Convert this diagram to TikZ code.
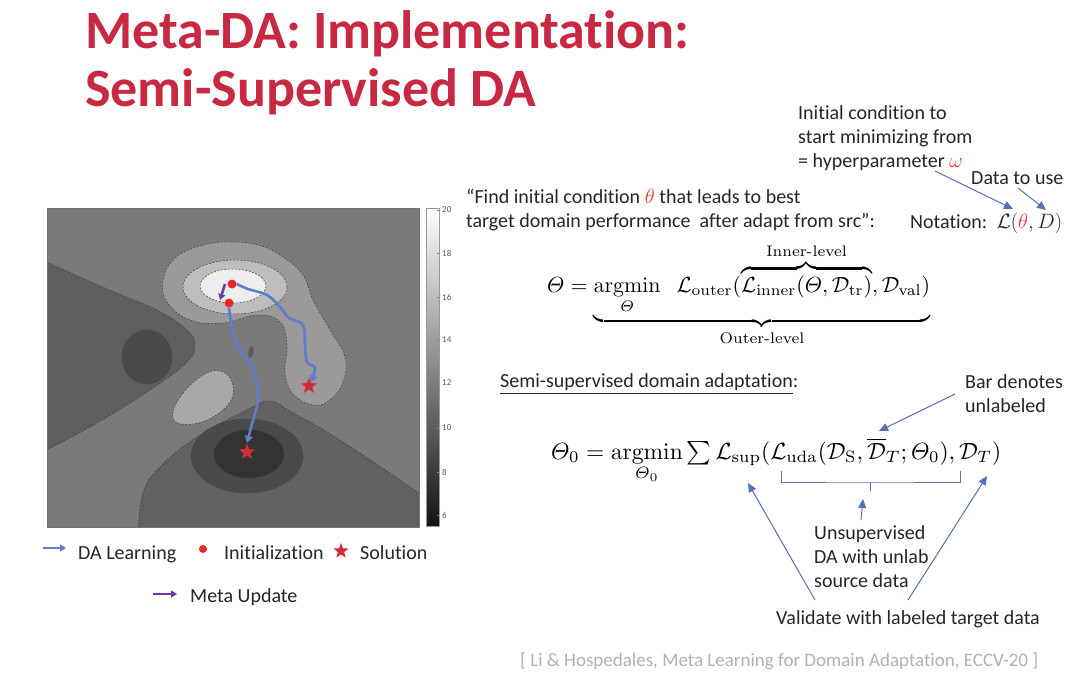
\documentclass[tikz,border=0pt]{standalone}
\usepackage{amsmath}
\usepackage{graphicx}
\usepackage[no-math]{fontspec}
\setmainfont{Carlito}[Ligatures={TeX,NoCommon}]
\newfontfamily\lmr{Latin Modern Roman}
\usetikzlibrary{arrows.meta,shapes.geometric}
\definecolor{titlered}{RGB}{200,40,65}
\definecolor{txtc}{RGB}{38,38,38}
\definecolor{mred}{RGB}{222,60,50}
\definecolor{annblue}{RGB}{90,110,180}
\definecolor{plotblue}{RGB}{95,125,205}
\definecolor{metapurple}{RGB}{110,60,160}
\definecolor{dotred}{RGB}{232,40,40}
\definecolor{starred}{RGB}{212,45,55}
\definecolor{citec}{RGB}{178,178,178}
\definecolor{cbg}{gray}{0.48}
\definecolor{clobe}{gray}{0.37}
\definecolor{cring1}{gray}{0.60}
\definecolor{cring2}{gray}{0.74}
\definecolor{cring3}{gray}{0.93}
\definecolor{csmall}{gray}{0.66}
\definecolor{cspot}{gray}{0.36}
\definecolor{cdark1}{gray}{0.38}
\definecolor{cdark2}{gray}{0.29}
\definecolor{cdark3}{gray}{0.20}
\tikzset{
  txt/.style={font=\fontsize{20}{24}\selectfont, text=txtc, inner sep=0pt, anchor=base west},
  titletxt/.style={font=\fontsize{54}{60}\selectfont\bfseries, text=titlered, inner sep=0pt, anchor=base west},
  citetxt/.style={font=\fontsize{19}{24}\selectfont, text=citec, inner sep=0pt, anchor=base west},
  cbtick/.style={font=\fontsize{9}{10}\selectfont, text=black!65, inner sep=0pt, anchor=west},
  contour/.style={draw=black!75, line width=0.5pt, dash pattern=on 2pt off 1.5pt},
  initdot/.style={circle, fill=dotred, minimum size=9pt, inner sep=0pt},
  solstar/.style={star, star points=5, star point ratio=2.4, fill=starred, minimum size=17pt, inner sep=0pt},
  dalearn/.style={draw=plotblue, line width=2.6pt, -{Triangle[length=7pt,width=8pt]}},
  metaup/.style={draw=metapurple, line width=2.6pt, -{Triangle[length=6pt,width=7pt]}},
  annarrow/.style={draw=annblue, line width=1pt, -{Triangle[length=9pt,width=8pt]}},
  bracketline/.style={draw=annblue, line width=0.8pt},
}
\begin{document}
\begin{tikzpicture}[x=1pt,y=-1pt]
\useasboundingbox (0,0) rectangle (1080,675);
\fill[white] (0,0) rectangle (1080,675);

% ---------- title ----------
\node[titletxt] (title1) at (85,48) {Meta-DA: Implementation:};
\node[titletxt] (title2) at (85,106) {Semi-Supervised DA};

% ---------- contour plot ----------
\begin{scope}
\clip (47,208) rectangle (419,527);
\fill[cbg] (47,208) rectangle (419,527);
% left dark lobe
\filldraw[fill=clobe, contour] plot[smooth, tension=0.7] coordinates {(40,259) (107,289) (157,310) (187,330) (195,345) (187,362) (150,390) (90,427) (40,453)} -- cycle;
\filldraw[fill=cdark2, contour] (147,357) ellipse [x radius=25, y radius=27];
% top light blob with tail
\filldraw[fill=cring1, contour] plot[smooth cycle, tension=0.7] coordinates {(163,280) (175,258) (200,246) (227,242) (258,245) (283,257) (303,275) (313,300) (330,330) (345,357) (343,382) (330,400) (313,405) (293,394) (285,373) (287,345) (280,322) (257,315) (223,323) (190,320) (167,302)};
\filldraw[fill=cring2, contour] (235,287) ellipse [x radius=52, y radius=27];
\filldraw[fill=cring3, contour] (233,286) ellipse [x radius=33, y radius=17];
% small light blob
\filldraw[fill=csmall, contour] plot[smooth cycle, tension=0.7] coordinates {(173,413) (183,393) (203,375) (220,371) (232,382) (230,402) (207,420) (180,424)};
% small dark spot
\fill[cspot, rotate around={-10:(251,352)}] (251,352) ellipse [x radius=2.5, y radius=6];
% bottom dark region
\filldraw[fill=cdark1, contour] plot[smooth, tension=0.7] coordinates {(138,535) (143,493) (160,467) (197,437) (247,410) (270,401) (293,413) (340,440) (425,497)} -- (425,535) -- cycle;
\filldraw[fill=cdark2, contour] (247,456) ellipse [x radius=56, y radius=37];
\filldraw[fill=cdark3, contour] (249,454) ellipse [x radius=35, y radius=24];
\end{scope}
\draw[black!55, line width=0.5pt] (47,208) rectangle (419,527);

% initialisations and solutions
\node[initdot] (i1) at (232,284) {};
\node[initdot] (i2) at (229,303) {};
\node[solstar] (s1) at (247,452) {};
\node[solstar] (s2) at (309,386) {};
\draw[dalearn] plot[smooth, tension=0.6] coordinates {(i2.south) (233,333) (240,350) (250,364) (256,380) (258,400) (253,420) (s1.north)};
\draw[dalearn] plot[smooth, tension=0.6] coordinates {(i1.east) (248,289) (267,295) (280,307) (289,318) (303,325) (305,345) (307,362) (315,368) (s2.62)};
\draw[metaup] ([xshift=-7pt]i1.center) -- ([xshift=-9pt,yshift=3pt]i2.center);

% colour bar
\shade[top color=white, bottom color={gray!15!black}] (426,208) rectangle (439,526);
\draw[black!40, line width=0.4pt] (426,208) rectangle (439,526);
\foreach \v/\yy in {20/210,18/253,16/297,14/340,12/383,10/428,8/472,6/515}{
  \draw[black!50, line width=0.4pt] (437,\yy) -- (439,\yy);
  \node[cbtick] at (442,\yy) {\v};
}

% legend
\coordinate (la1) at (43,548);
\coordinate (la2) at (66,548);
\draw[draw=plotblue, line width=2.4pt, -{Triangle[length=6pt,width=7pt]}] (la1) -- (la2);
\node[txt] (lg1) at (78,559) {DA Learning};
\node[initdot, minimum size=8pt] (ldot) at (203,549) {};
\node[txt] (lg2) at (224,559) {Initialization};
\node[solstar, minimum size=16pt] (lstar) at (341,551) {};
\node[txt] (lg3) at (360,559) {Solution};
\coordinate (lm1) at (153,594);
\coordinate (lm2) at (177,594);
\draw[draw=metapurple, line width=2.4pt, -{Triangle[length=6pt,width=7pt]}] (lm1) -- (lm2);
\node[txt] (lg4) at (190,602) {Meta Update};

% ---------- upper right annotation ----------
\node[txt] (ic1) at (798,119) {Initial condition to};
\node[txt] (ic2) at (798,143) {start minimizing from};
\node[txt] (ic3) at (798,167) {= hyperparameter $\textcolor{mred}{\omega}$};
\node[txt] (dtu) at (971,184) {Data to use};
\node[txt] (nota) at (910,228) {Notation: \,$\mathcal{L}(\textcolor{mred}{\theta}, D)$};
\coordinate (a1s) at (935,171);
\coordinate (a1e) at (1013,209);
\coordinate (a2s) at (1018,188);
\coordinate (a2e) at (1046,210);
\draw[annarrow] (a1s) -- (a1e);
\draw[annarrow] (a2s) -- (a2e);

\node[txt] (q1) at (466,203) {``Find initial condition $\textcolor{mred}{\theta}$ that leads to best};
\node[txt] (q2) at (466,227) {target domain performance \ after adapt from src'':};

% ---------- formula 1 ----------
\node[anchor=north west, inner sep=0pt] (f1) at (547,243) {\resizebox{383pt}{!}{$\displaystyle \varTheta = \underbrace{\operatorname*{argmin}_{\varTheta}\;\;\mathcal{L}_{\mathrm{outer}}(\overbrace{\mathcal{L}_{\mathrm{inner}}(\varTheta,\mathcal{D}_{\mathrm{tr}})}^{\text{\lmr Inner-level}},\mathcal{D}_{\mathrm{val}})}_{\text{\lmr Outer-level}}$}};

% ---------- semi-supervised ----------
\node[txt] (ss) at (500,387) {\underline{Semi-supervised domain adaptation}:};
\node[txt] (bd1) at (965,388) {Bar denotes};
\node[txt] (bd2) at (965,412) {unlabeled};
\coordinate (a3s) at (955,394);
\coordinate (a3e) at (879,431);
\draw[annarrow] (a3s) -- (a3e);

\node[anchor=base west, inner sep=0pt] (f2) at (551,459) {\resizebox{450pt}{!}{$\varTheta_0 = \operatorname*{argmin}\limits_{\varTheta_0}\sum\mathcal{L}_{\mathrm{sup}}(\mathcal{L}_{\mathrm{uda}}(\mathcal{D}_{\mathrm{S}},\overline{\mathcal{D}}_T;\varTheta_0),\mathcal{D}_T)$}};

% bracket under L_uda(...)
\coordinate (bl) at (781,471);
\coordinate (br) at (960,471);
\coordinate (bc) at (870,482);
\draw[bracketline] (bl) |- (bc) -| (br);
\draw[bracketline] (bc) -- ++(0,9);

\node[txt] (u1) at (814,539) {Unsupervised};
\node[txt] (u2) at (814,563) {DA with unlab};
\node[txt] (u3) at (814,587) {source data};
\coordinate (a4s) at (861,520);
\coordinate (a4e) at (863,499);
\draw[annarrow] (a4s) -- (a4e);

\node[txt] (val) at (776,624) {Validate with labeled target data};
\coordinate (a5s) at (815,600);
\coordinate (a5e) at (748,483);
\coordinate (a6s) at (908,600);
\coordinate (a6e) at (987,476);
\draw[annarrow] (a5s) -- (a5e);
\draw[annarrow] (a6s) -- (a6e);

% citation
\node[citetxt] (cite) at (520,666) {[ Li \& Hospedales, Meta Learning for Domain Adaptation, ECCV-20 ]};
\end{tikzpicture}
\end{document}
